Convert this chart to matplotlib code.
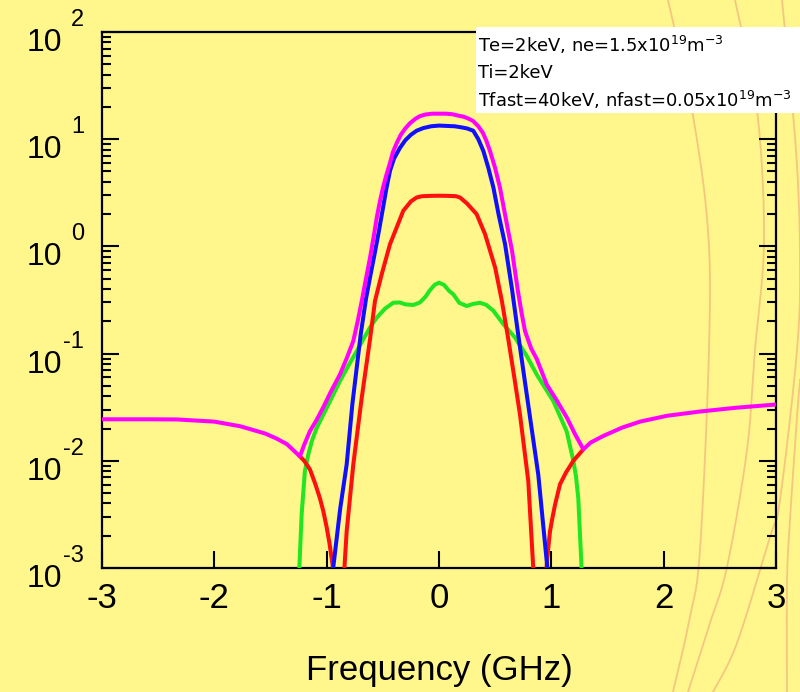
import numpy as np
import matplotlib
matplotlib.use("Agg")
import matplotlib.pyplot as plt
import matplotlib.transforms as mtransforms
from matplotlib.lines import Line2D
from matplotlib.patches import Rectangle
from matplotlib.ticker import LogLocator, NullLocator, NullFormatter

plt.rcParams['axes.unicode_minus'] = False
plt.rcParams['mathtext.default'] = 'regular'
plt.rcParams['font.family'] = ['Liberation Sans', 'DejaVu Sans']

# ---- spectra (frequency in GHz, scattered power in arbitrary units) ----
# total spectrum
freq_total = [-3.0, -2.6, -2.33, -2.0, -1.77, -1.55, -1.45, -1.354, -1.238,
              -1.20, -1.149, -1.09, -1.03, -0.96, -0.882, -0.82, -0.763, -0.72,
              -0.686, -0.65, -0.614, -0.58, -0.552, -0.525, -0.499, -0.47,
              -0.436, -0.41, -0.374, -0.34, -0.30, -0.258, -0.21, -0.17, -0.12,
              -0.06, 0.0, 0.06, 0.12, 0.17, 0.22, 0.26, 0.303, 0.35, 0.39,
              0.42, 0.454, 0.50, 0.543, 0.60, 0.65, 0.70, 0.735, 0.766, 0.82,
              0.87, 0.96, 1.05, 1.14, 1.21, 1.285, 1.35, 1.46, 1.63, 1.79,
              2.03, 2.32, 2.65, 3.0]
power_total = [0.0244, 0.0244, 0.0243, 0.0232, 0.0210, 0.0180, 0.0162, 0.0143,
               0.0110, 0.0141, 0.0189, 0.0240, 0.0316, 0.0447, 0.0638, 0.0912,
               0.131, 0.209, 0.316, 0.501, 0.785, 1.26, 1.91, 2.66, 3.52, 4.57,
               6.03, 7.59, 9.33, 11.0, 12.6, 14.1, 15.5, 16.4, 17.0, 17.3, 17.3,
               17.3, 17.1, 16.6, 16.2, 15.6, 14.8, 13.2, 11.5, 9.77, 7.76, 5.37,
               3.52, 1.70, 0.912, 0.398, 0.240, 0.162, 0.112, 0.0891, 0.0513,
               0.0363, 0.0251, 0.0178, 0.0128, 0.0148, 0.0170, 0.0204, 0.0232,
               0.0263, 0.0288, 0.0313, 0.0335]

# bulk ion feature
freq_ion = [-0.975, -0.941, -0.88, -0.822, -0.771, -0.697, -0.65, -0.614,
            -0.575, -0.54, -0.50, -0.47, -0.436, -0.40, -0.347, -0.30, -0.25,
            -0.199, -0.14, -0.07, 0.0, 0.07, 0.14, 0.20, 0.25, 0.305, 0.35,
            0.395, 0.44, 0.484, 0.53, 0.588, 0.65, 0.706, 0.77, 0.884, 0.964,
            0.995]
power_ion = [0.0005, 0.00102, 0.00355, 0.00923, 0.0339, 0.151, 0.324, 0.513,
             0.832, 1.30, 2.24, 3.39, 5.08, 6.61, 8.32, 9.77, 11.0, 12.0, 12.7,
             13.2, 13.4, 13.3, 13.2, 12.9, 12.6, 12.0, 10.0, 7.76, 5.37, 3.55,
             2.00, 1.05, 0.398, 0.148, 0.0501, 0.00741, 0.00102, 0.0005]

# electron contribution: central part and the two outer branches
freq_elec = [-0.855, -0.843, -0.822, -0.763, -0.688, -0.614, -0.57, -0.51,
             -0.436, -0.377, -0.318, -0.25, -0.199, -0.15, -0.08, 0.0, 0.08,
             0.15, 0.187, 0.25, 0.335, 0.41, 0.50, 0.56, 0.617, 0.67, 0.721,
             0.795, 0.84, 0.85]
power_elec = [0.0005, 0.00096, 0.00219, 0.00923, 0.0386, 0.136, 0.309, 0.550,
              1.05, 1.50, 2.15, 2.63, 2.86, 2.94, 2.96, 2.97, 2.96, 2.94, 2.86,
              2.51, 2.00, 1.30, 0.634, 0.309, 0.136, 0.0603, 0.0270, 0.00646,
              0.00096, 0.0005]
freq_elec_lo = [-1.238, -1.20, -1.149, -1.10, -1.06, -1.03, -1.0, -0.975,
                -0.956, -0.941, -0.93]
power_elec_lo = [0.0110, 0.0100, 0.00832, 0.00603, 0.00447, 0.00339, 0.00240,
                 0.00170, 0.00123, 0.00096, 0.0005]
freq_elec_hi = [0.95, 0.959, 0.975, 0.988, 1.01, 1.033, 1.077, 1.13, 1.196,
                1.285]
power_elec_hi = [0.0005, 0.00107, 0.00162, 0.00219, 0.00295, 0.00389, 0.00603,
                 0.00776, 0.0100, 0.0128]

# fast ion contribution
freq_fast = [-1.262, -1.244, -1.223, -1.194, -1.164, -1.13, -1.089, -1.0,
             -0.882, -0.80, -0.733, -0.674, -0.61, -0.555, -0.48, -0.407,
             -0.35, -0.30, -0.229, -0.17, -0.12, -0.085, -0.04, 0.0, 0.045,
             0.09, 0.128, 0.18, 0.246, 0.30, 0.365, 0.42, 0.484, 0.573, 0.677,
             0.78, 0.87, 1.018, 1.136, 1.196, 1.22, 1.24, 1.27, 1.285]
power_fast = [0.0005, 0.00096, 0.00314, 0.00798, 0.0114, 0.0155, 0.0202,
              0.0311, 0.0553, 0.0794, 0.105, 0.136, 0.178, 0.216, 0.263, 0.298,
              0.300, 0.288, 0.284, 0.300, 0.339, 0.385, 0.437, 0.459, 0.437,
              0.385, 0.357, 0.298, 0.278, 0.290, 0.298, 0.285, 0.251, 0.188,
              0.141, 0.0955, 0.0638, 0.0360, 0.0189, 0.0100, 0.00708, 0.00447,
              0.00096, 0.0005]

annotation = [r'Te=2keV, ne=1.5x10$^{19}$m$^{-3}$',
              'Ti=2keV',
              r'Tfast=40keV, nfast=0.05x10$^{19}$m$^{-3}$']

y_decades = [-3, -2, -1, 0, 1, 2]
x_ticks = [-3, -2, -1, 0, 1, 2, 3]

BG = '#fff78c'
fig = plt.figure(figsize=(8.0, 6.92), dpi=100, facecolor=BG)


# decorative background strokes (figure pixel coordinates, y from top)
def _smooth(pts, n=24):
    pts = np.asarray(pts, float)
    out = []
    p = np.vstack([pts[0], pts, pts[-1]])
    for i in range(1, len(p) - 2):
        p0, p1, p2, p3 = p[i - 1], p[i], p[i + 1], p[i + 2]
        t = np.linspace(0, 1, n)[:, None]
        seg = 0.5 * ((2 * p1) + (-p0 + p2) * t + (2 * p0 - 5 * p1 + 4 * p2 - p3) * t ** 2
                     + (-p0 + 3 * p1 - 3 * p2 + p3) * t ** 3)
        out.append(seg)
    return np.vstack(out)


strokes = [
    [(668, 0), (692, 110), (708, 230), (709, 350), (700, 550), (690, 617), (673, 692)],
    [(735, 0), (757, 110), (764, 240), (755, 350), (747, 450), (727, 567), (710, 623), (688, 692)],
    [(782, 0), (796, 150), (800, 260), (797, 350), (780, 500), (770, 537), (737, 643), (713, 692)],
    [(800, 380), (797, 417), (790, 520), (787, 583), (787, 692)],
]
for s in strokes:
    c = _smooth(s)
    fig.add_artist(Line2D(c[:, 0] / 800, 1 - c[:, 1] / 692, color='#f2c27e',
                          lw=1.3, alpha=0.9, transform=fig.transFigure, zorder=0))

ax = fig.add_axes([102 / 800, 1 - 568 / 692, (776 - 102) / 800, (568 - 32) / 692])
ax.set_facecolor('none')
ax.set_yscale('log')
ax.set_xlim(-3, 3)
ax.set_ylim(1e-3, 1e2)

lw = 2.9
ax.plot(freq_fast, power_fast, color='#22e622', lw=lw, zorder=3)
ax.plot(freq_elec, power_elec, color='#ff1010', lw=lw, zorder=4)
ax.plot(freq_elec_lo, power_elec_lo, color='#ff1010', lw=lw, zorder=4)
ax.plot(freq_elec_hi, power_elec_hi, color='#ff1010', lw=lw, zorder=4)
ax.plot(freq_ion, power_ion, color='#1010ff', lw=lw, zorder=5)
ax.plot(freq_total, power_total, color='#ff00ff', lw=lw, zorder=6)

for sp in ax.spines.values():
    sp.set_linewidth(1.6)
    sp.set_color('black')

ax.set_xticks(x_ticks)
ax.set_xticklabels([str(v) for v in x_ticks])
ax.xaxis.set_minor_locator(NullLocator())
ax.yaxis.set_major_locator(LogLocator(base=10, numticks=10))
ax.yaxis.set_minor_locator(LogLocator(base=10, subs=np.arange(2, 10), numticks=20))
ax.yaxis.set_major_formatter(NullFormatter())
ax.yaxis.set_minor_formatter(NullFormatter())
ax.tick_params(axis='x', which='major', direction='in', length=12.5, width=1.5,
               labelsize=25, pad=10, top=False, bottom=True)
ax.tick_params(axis='y', which='major', direction='in', length=12.5, width=1.5,
               left=True, right=True)
ax.tick_params(axis='y', which='minor', direction='in', length=6.5, width=1.5,
               left=True, right=True)

# power-of-ten labels: base and raised exponent
ytrans = ax.get_yaxis_transform()
for d in y_decades:
    base_tr = ytrans + mtransforms.ScaledTranslation(-40 / 100, -19 / 100, fig.dpi_scale_trans)
    exp_tr = ytrans + mtransforms.ScaledTranslation(-18 / 100, 6 / 100, fig.dpi_scale_trans)
    ax.text(0, 10.0 ** d, '10', transform=base_tr, ha='right', va='baseline',
            fontsize=23, clip_on=False)
    ax.text(0, 10.0 ** d, str(d), transform=exp_tr, ha='right', va='baseline',
            fontsize=17, clip_on=False)

fig.text(439 / 800, 1 - 680 / 692, 'Frequency (GHz)', ha='center', va='baseline',
         fontsize=25)

# parameter box
fig.add_artist(Rectangle((476 / 800, 1 - 113 / 692), 330 / 800, 86 / 692,
                         transform=fig.transFigure, facecolor='white',
                         edgecolor='none', zorder=10))
for txt, yb in zip(annotation, [51.5, 78.5, 107]):
    fig.text(478.5 / 800, 1 - yb / 692, txt, ha='left', va='baseline',
             fontsize=12.9, family='DejaVu Sans', zorder=11)

fig.savefig('out.png', dpi=100, facecolor=BG)
